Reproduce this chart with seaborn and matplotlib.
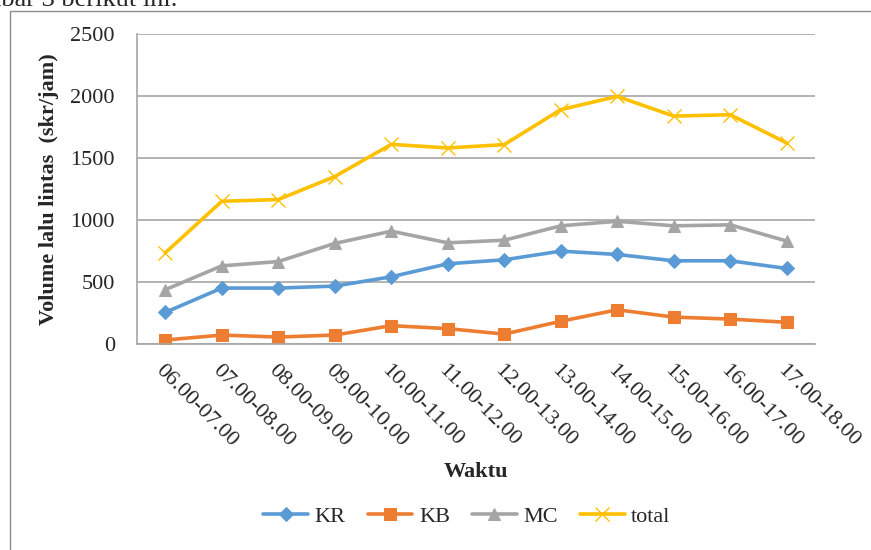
import numpy as np
import pandas as pd
import seaborn as sns
import matplotlib.pyplot as plt
from matplotlib.patches import Rectangle
from matplotlib.transforms import ScaledTranslation

# data #########################################################################
waktu = ['06.00-07.00', '07.00-08.00', '08.00-09.00', '09.00-10.00',
         '10.00-11.00', '11.00-12.00', '12.00-13.00', '13.00-14.00',
         '14.00-15.00', '15.00-16.00', '16.00-17.00', '17.00-18.00']
kr = [255, 451, 451, 467, 542, 647, 679, 749, 722, 671, 671, 609]
kb = [32, 72, 56, 72, 148, 124, 80, 183, 276, 217, 201, 175]
mc = [438, 630, 665, 811, 910, 816, 837, 953, 990, 953, 961, 830]
total = [735, 1151, 1165, 1350, 1610, 1581, 1608, 1890, 1997, 1838, 1849, 1621]

yticks = [0, 500, 1000, 1500, 2000, 2500]

series = {'KR': (kr, '#5b9bd5', 'D', 7),
          'KB': (kb, '#ed7d31', 's', 8),
          'MC': (mc, '#a5a5a5', '^', 9),
          'total': (total, '#ffc000', 'x', 10)}

# style #######################################################################
sns.set_style('white')
plt.rcParams['font.family'] = ['Liberation Serif', 'DejaVu Serif']

fig = plt.figure(figsize=(8.71, 5.5), dpi=100)
ax = fig.add_axes([137 / 871, 1 - 344 / 550, 678 / 871, 310 / 550])

pos = np.arange(len(waktu))
for name, (vals, col, mk, ms) in series.items():
    df = pd.DataFrame({'pos': pos, 'val': vals})
    kw = dict(markeredgecolor=col, markerfacecolor=col)
    if mk == 'x':
        kw['markeredgewidth'] = 1.0
    sns.lineplot(data=df, x='pos', y='val', ax=ax, color=col, linewidth=2.6,
                 marker=mk, markersize=ms, label=name, **kw)

# axes ########################################################################
ax.set_xlim(-0.5, len(waktu) - 0.5)
ax.set_ylim(0, 2500)
ax.set_yticks(yticks)
ax.set_yticklabels([str(t) for t in yticks], fontsize=16)
ax.set_xticks(pos)
ax.set_xticklabels(waktu, fontsize=16, rotation=-45, ha='left', va='top',
                   rotation_mode='anchor')
shift = ScaledTranslation(4 / 72, 0, fig.dpi_scale_trans)
for lbl in ax.get_xticklabels():
    lbl.set_transform(lbl.get_transform() + shift)
ax.tick_params(axis='x', length=0, pad=12)
ax.tick_params(axis='y', length=0, pad=16)
ax.yaxis.grid(True, color='#a6a6a6', linewidth=1.2)
ax.set_axisbelow(True)
for s in ['top', 'right']:
    ax.spines[s].set_visible(False)
for s in ['left', 'bottom']:
    ax.spines[s].set_color('#a6a6a6')
    ax.spines[s].set_linewidth(1.2)

ax.set_xlabel('Waktu', fontsize=16, fontweight='bold')
ax.xaxis.set_label_coords(0.5, -0.38)
ax.set_ylabel('Volume lalu lintas  (skr/jam)', fontsize=16, fontweight='bold')
ax.yaxis.set_label_coords(-0.115, 0.5)

leg = ax.legend(loc='center', bbox_to_anchor=(467 / 871, 1 - 517 / 550),
                bbox_transform=fig.transFigure, ncol=4, frameon=False,
                fontsize=16, handlelength=2.0, columnspacing=1.0,
                handletextpad=0.3)

# chart border and cut-off caption ###########################################
fig.patches.append(Rectangle((10 / 871, -0.05), 1.0, 1 - 11 / 550 + 0.05,
                             transform=fig.transFigure, fill=False,
                             edgecolor='#8c8c8c', linewidth=1.0))
fig.text(-50 / 871, 1 - 6 / 550, 'Gambar 3 berikut ini.', fontsize=19,
         va='baseline', ha='left')

fig.savefig('out.png', dpi=100)
